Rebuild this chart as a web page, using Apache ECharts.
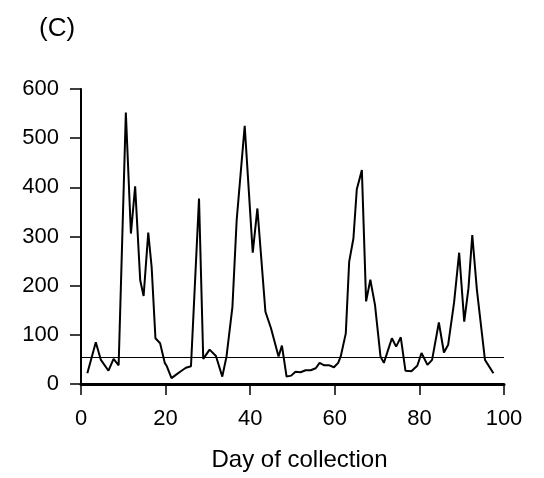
<!DOCTYPE html>
<html>
<head>
    <meta charset="utf-8">
    <title>Day of collection</title>
    <script src="https://cdn.jsdelivr.net/npm/echarts@6/dist/echarts.min.js"></script>
    <style>
        html, body, #main {
            width: 100%;
            height: 100%;
            margin: 0;
            background: #fff;
        }
    </style>
</head>
<body>
    <div id="main"></div>
    <script type="text/javascript">
        // day of collection / count
        var days = [1.5, 3.5, 4.7, 6.5, 7.7, 8.9, 10.6, 11.8, 12.8, 14, 14.8, 15.9, 16.7, 17.6, 18.7, 19.8, 20.3, 21.4,
            22.5, 23.6, 24.8, 26, 27.9, 28.9, 30.4, 31.9, 33.4, 34.4, 35.8, 36.8, 38.7, 40.6, 41.7, 43.6, 44.9,
            46.7, 47.5, 48.6, 49.7, 50.7, 51.9, 53.1, 54.3, 55.5, 56.4, 57.5, 58.7, 59.8, 60.8, 61.4, 62.6, 63.4,
            64.4, 65.2, 66.4, 67.4, 68.4, 69.5, 70.8, 71.6, 73.5, 74.5, 75.6, 76.7, 78.1, 79.5, 80.5, 81.9, 83,
            84.6, 85.8, 86.8, 88.2, 89.4, 90.6, 91.6, 92.5, 93.6, 95.5, 97.5];
        var counts = [22, 85, 49, 27, 51, 38, 552, 306, 402, 211, 179, 308, 238, 93, 83, 43, 36, 12,
            19, 26, 33, 36, 377, 51, 70, 57, 15, 56, 157, 333, 525, 267, 357, 147, 114,
            56, 78, 15, 17, 25, 24, 28, 28, 32, 43, 38, 38, 34, 43, 56, 103, 249,
            296, 396, 435, 168, 212, 161, 56, 43, 93, 76, 95, 27, 26, 37, 63, 39, 49,
            125, 64, 80, 166, 267, 127, 195, 303, 191, 49, 22];
        var threshold = 55;
        var xTicks = [0, 20, 40, 60, 80, 100];
        var yTicks = [0, 100, 200, 300, 400, 500, 600];

        var points = [];
        for (var i = 0; i < days.length; i++) {
            points.push([days[i], counts[i]]);
        }

        var myChart = echarts.init(document.getElementById('main'));
        var font = 'Liberation Sans, Arial, Helvetica, sans-serif';
        var option = {
            animation: false,
            title: {
                text: '(C)',
                left: 34,
                top: 11,
                textStyle: { fontFamily: font, fontSize: 26, fontWeight: 'normal', color: '#000' }
            },
            grid: { left: 81, top: 89, right: 40, bottom: 94 },
            xAxis: {
                type: 'value',
                min: xTicks[0],
                max: xTicks[xTicks.length - 1],
                interval: 20,
                name: 'Day of collection',
                nameLocation: 'middle',
                nameGap: 64,
                nameTextStyle: { fontFamily: font, fontSize: 24, color: '#000', padding: [0, 0, 0, 14] },
                splitLine: { show: false },
                axisLine: { show: true, lineStyle: { color: '#000', width: 3 } },
                axisTick: { show: true, length: 11, lineStyle: { color: '#000', width: 1.5 } },
                axisLabel: { fontFamily: font, fontSize: 22, color: '#000', margin: 24 }
            },
            yAxis: {
                type: 'value',
                min: yTicks[0],
                max: yTicks[yTicks.length - 1],
                interval: 100,
                splitLine: { show: false },
                axisLine: { show: true, lineStyle: { color: '#000', width: 2 } },
                axisTick: { show: true, length: 11, lineStyle: { color: '#000', width: 1.5 } },
                axisLabel: { fontFamily: font, fontSize: 22, color: '#000', margin: 22 }
            },
            series: [{
                type: 'line',
                data: points,
                showSymbol: false,
                lineStyle: { color: '#000', width: 2 },
                markLine: {
                    silent: true,
                    symbol: 'none',
                    label: { show: false },
                    lineStyle: { color: '#000', width: 1, type: 'solid' },
                    data: [{ yAxis: threshold }]
                }
            }]
        };
        myChart.setOption(option);
        window.onresize = myChart.resize;
    </script>
</body>
</html>
